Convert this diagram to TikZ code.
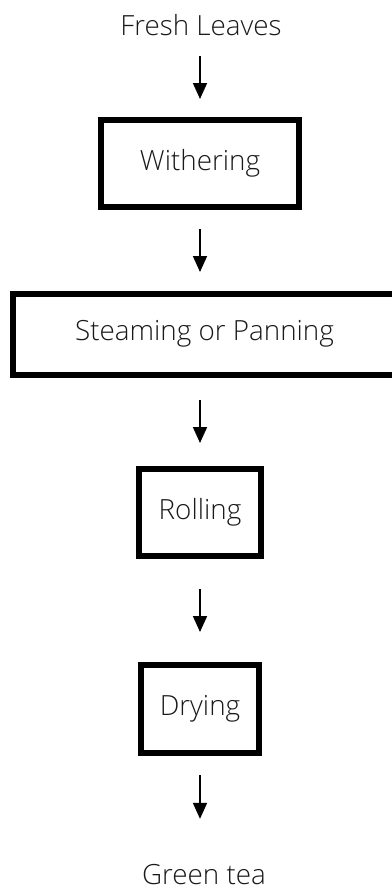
\documentclass[tikz,border=0pt]{standalone}
\usepackage{fontspec}
\setmainfont{Open Sans Light}
\usetikzlibrary{arrows.meta}
\begin{document}
\begin{tikzpicture}[x=1pt,y=-1pt,
  txt/.style={inner sep=0pt,outer sep=0pt,text=black!90,font=\fontsize{27.8}{30}\selectfont},
  stage/.style={txt,draw=black,rectangle,line width=6pt},
  flow/.style={line width=1.8pt,draw=black,-{Triangle[width=14pt,length=16pt]}}]
\useasboundingbox (0,0) rectangle (391,889);

% process stages
\node[txt,anchor=base] (fresh) at (201,35) {Fresh Leaves};
\node[stage,minimum width=198pt,minimum height=87pt] (wither) at (200,163.5) {Withering};
\node[stage,minimum width=383pt,minimum height=80.5pt] (steam) at (204.5,334.25) {Steaming or Panning};
\node[stage,minimum width=122pt,minimum height=87pt] (roll) at (200,512) {Rolling};
\node[stage,minimum width=118pt,minimum height=88pt] (dry) at (200,708.5) {Drying};
\node[txt,anchor=base] (green) at (204,884) {Green tea};

% arrows between stages
\draw[flow,shorten <=21pt,shorten >=21pt] (fresh.south -| wither.north) -- (wither.north);
\draw[flow,shorten <=22pt,shorten >=22pt] (wither.south) -- (wither.south |- steam.north);
\draw[flow,shorten <=25.5pt,shorten >=25.5pt] (wither.south |- steam.south) -- (roll.north);
\draw[flow,shorten <=33.5pt,shorten >=32.5pt] (roll.south) -- (dry.north);
\draw[flow,shorten <=22.5pt,shorten >=45pt] (dry.south) -- (dry.south |- green.north);
\end{tikzpicture}
\end{document}
